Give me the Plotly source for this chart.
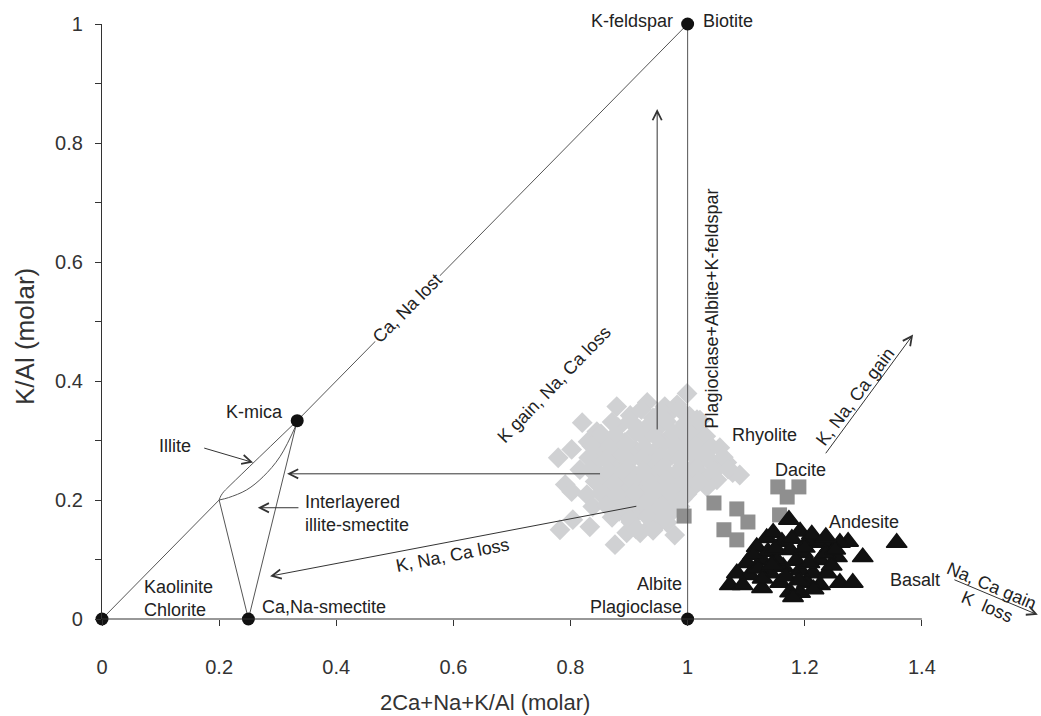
import plotly.graph_objects as go

# ---------------- data ----------------
mineral_x = [0, 0.25, 1/3, 1, 1]
mineral_y = [0, 0, 1/3, 0, 1]

rhyolite_x = [0.999, 0.931, 0.879, 0.820, 0.845, 0.830, 0.862, 0.802, 0.779, 0.816, 0.791, 0.802,
              0.828, 0.838, 0.804, 0.782, 0.833, 0.876, 0.896, 0.919, 0.936, 0.978, 0.965, 0.987,
              1.026, 1.055, 1.067, 1.077, 1.089, 1.050, 1.033, 1.016, 0.982, 0.961,
              0.902, 0.941, 0.968, 1.003,
              0.881, 0.918, 0.952, 0.986, 1.012,
              0.858, 0.893, 0.927, 0.962, 0.994, 1.021,
              0.852, 0.878, 0.912, 0.943, 0.973, 1.004, 1.028,
              0.842, 0.871, 0.899, 0.934, 0.958, 0.991, 1.018, 1.043,
              0.853, 0.884, 0.909, 0.941, 0.969, 1.002, 1.027,
              0.861, 0.893, 0.922, 0.953, 0.979, 1.012,
              0.872, 0.904, 0.931, 0.962, 0.991,
              0.883, 0.912, 0.944, 0.972,
              0.903, 0.951,
              0.921, 0.956, 0.986,
              0.871, 0.902, 0.936, 0.964, 0.996, 1.021,
              0.852, 0.876, 0.911, 0.944, 0.976, 1.006, 1.031,
              0.836, 0.866, 0.894, 0.926, 0.955, 0.984, 1.014, 1.041,
              0.831, 0.861, 0.893, 0.921, 0.954, 0.986, 1.016, 1.039, 1.061,
              0.834, 0.866, 0.896, 0.924, 0.956, 0.984, 1.013, 1.046, 1.069,
              0.842, 0.874, 0.906, 0.936, 0.964, 0.994, 1.019,
              0.851, 0.881, 0.909, 0.941, 0.971, 0.999,
              0.861, 0.894, 0.926, 0.954, 0.984,
              0.871, 0.901, 0.931, 0.959,
              0.912, 0.941]
rhyolite_y = [0.379, 0.364, 0.357, 0.330, 0.315, 0.298, 0.285, 0.285, 0.271, 0.251, 0.226, 0.214,
              0.209, 0.189, 0.167, 0.150, 0.155, 0.125, 0.145, 0.145, 0.155, 0.141, 0.162, 0.189,
              0.290, 0.288, 0.263, 0.246, 0.242, 0.234, 0.222, 0.335, 0.360, 0.357,
              0.342, 0.338, 0.345, 0.341,
              0.322, 0.318, 0.324, 0.317, 0.321,
              0.301, 0.297, 0.304, 0.299, 0.302, 0.296,
              0.281, 0.277, 0.283, 0.279, 0.276, 0.282, 0.278,
              0.262, 0.258, 0.264, 0.259, 0.261, 0.257, 0.263, 0.259,
              0.241, 0.238, 0.243, 0.239, 0.242, 0.237, 0.240,
              0.222, 0.219, 0.223, 0.218, 0.221, 0.224,
              0.201, 0.198, 0.203, 0.199, 0.202,
              0.181, 0.178, 0.183, 0.179,
              0.163, 0.161,
              0.352, 0.349, 0.353,
              0.331, 0.333, 0.328, 0.332, 0.329, 0.334,
              0.311, 0.309, 0.313, 0.308, 0.312, 0.310, 0.307,
              0.291, 0.288, 0.293, 0.289, 0.292, 0.287, 0.291, 0.289,
              0.271, 0.268, 0.272, 0.269, 0.273, 0.268, 0.271, 0.267, 0.272,
              0.251, 0.248, 0.252, 0.249, 0.253, 0.248, 0.251, 0.249, 0.252,
              0.231, 0.228, 0.232, 0.229, 0.233, 0.230, 0.231,
              0.211, 0.208, 0.212, 0.209, 0.211, 0.210,
              0.191, 0.188, 0.192, 0.189, 0.190,
              0.171, 0.168, 0.172, 0.169,
              0.151, 0.149]

dacite_x = [0.994, 1.045, 1.084, 1.103, 1.062, 1.084, 1.154, 1.190, 1.170, 1.157]
dacite_y = [0.173, 0.195, 0.185, 0.163, 0.150, 0.133, 0.222, 0.222, 0.205, 0.175]

basalt_x = [1.173, 1.192, 1.135, 1.161, 1.221, 1.243, 1.274, 1.299, 1.357, 1.118, 1.101, 1.127,
            1.175, 1.197, 1.226, 1.255, 1.084, 1.106, 1.141, 1.163, 1.192, 1.214, 1.238, 1.072,
            1.094, 1.127, 1.158, 1.175, 1.192, 1.180, 1.204, 1.226, 1.260, 1.282, 1.137, 1.152,
            1.205, 1.231, 1.260, 1.146, 1.112, 1.212, 1.185, 1.246, 1.168, 1.120, 1.215, 1.200,
            1.150, 1.235, 1.190, 1.128, 1.178, 1.252, 1.144, 1.208, 1.236]
basalt_y = [0.167, 0.147, 0.136, 0.130, 0.128, 0.121, 0.130, 0.104, 0.128, 0.121, 0.094, 0.099,
            0.116, 0.111, 0.099, 0.104, 0.077, 0.074, 0.077, 0.088, 0.082, 0.077, 0.077, 0.057,
            0.057, 0.052, 0.061, 0.045, 0.044, 0.037, 0.061, 0.057, 0.061, 0.061, 0.113, 0.099,
            0.130, 0.130, 0.128, 0.145, 0.108, 0.142, 0.098, 0.090, 0.072, 0.085, 0.050, 0.120,
            0.118, 0.110, 0.065, 0.068, 0.135, 0.117, 0.092, 0.094, 0.138]

# boundary lines of the weathering diagram
illite_upper_x = [0.2, 0.203, 0.208, 0.215, 1/3]
illite_upper_y = [0.2, 0.207, 0.214, 0.221, 1/3]
illite_lower_x = [0.2, 0.216, 0.247, 0.275, 0.304, 1/3]
illite_lower_y = [0.2, 0.204, 0.217, 0.239, 0.273, 0.330]

x_ticks = [0, 0.2, 0.4, 0.6, 0.8, 1.0, 1.2, 1.4]
x_ticktext = ["0", "0.2", "0.4", "0.6", "0.8", "1", "1.2", "1.4"]
y_ticks = [0, 0.1, 0.2, 0.3, 0.4, 0.5, 0.6, 0.7, 0.8, 0.9, 1.0]
y_ticktext = ["0", "", "0.2", "", "0.4", "", "0.6", "", "0.8", "", "1"]

X_MAX = 1.6
X_AXIS_END = 1.4

FONT = "Liberation Sans, Arial, sans-serif"
LINE = "#555555"
ARROW = "#333333"

fig = go.Figure()

fig.add_trace(go.Scatter(x=rhyolite_x, y=rhyolite_y, mode="markers",
                         marker=dict(symbol="diamond", size=16, color="#d0d1d3"),
                         showlegend=False, hoverinfo="skip"))
fig.add_trace(go.Scatter(x=dacite_x, y=dacite_y, mode="markers",
                         marker=dict(symbol="square", size=15, color="#8f8f8f"),
                         showlegend=False, hoverinfo="skip"))
fig.add_trace(go.Scatter(x=basalt_x, y=basalt_y, mode="markers",
                         marker=dict(symbol="triangle-up", size=18, color="#111111",
                                     line=dict(color="#111111", width=1.5)),
                         showlegend=False, hoverinfo="skip"))

def line(xs, ys, shape="linear"):
    fig.add_trace(go.Scatter(x=xs, y=ys, mode="lines",
                             line=dict(color=LINE, width=1, shape=shape),
                             showlegend=False, hoverinfo="skip"))

# (0,0) -> (0.2,0.2), K-mica -> (1,1)
line([mineral_x[0], 0.2], [mineral_y[0], 0.2])
line([mineral_x[2], mineral_x[4]], [mineral_y[2], mineral_y[4]])
# vertical x = 1
line([mineral_x[3], mineral_x[4]], [mineral_y[3], mineral_y[4]])
# smectite lines
line([mineral_x[2], mineral_x[1]], [mineral_y[2], mineral_y[1]])
line([0.2, mineral_x[1]], [0.2, mineral_y[1]])
# illite lens
line(illite_upper_x, illite_upper_y, "spline")
line(illite_lower_x, illite_lower_y, "spline")

fig.add_trace(go.Scatter(x=mineral_x, y=mineral_y, mode="markers",
                         marker=dict(symbol="circle", size=13, color="#111111"),
                         cliponaxis=False, showlegend=False, hoverinfo="skip"))

ann = []

def label(text, x, y, xanchor="left", yanchor="middle", angle=0, size=18, align="left",
          bg=None, yshift=0):
    d = dict(text=text, x=x, y=y, xref="x", yref="y", showarrow=False, xanchor=xanchor,
             yanchor=yanchor, textangle=angle, align=align, yshift=yshift,
             font=dict(family=FONT, size=size, color="#222222"))
    if bg:
        d["bgcolor"] = bg
    ann.append(d)

def arrow(x0, y0, x1, y1):
    ann.append(dict(text="", x=x1, y=y1, ax=x0, ay=y0, xref="x", yref="y", axref="x", ayref="y",
                    showarrow=True, arrowhead=5, arrowsize=1.8, arrowwidth=1, arrowcolor=ARROW))

label("K-feldspar", 0.978, 1.0, xanchor="right", yshift=3)
label("Biotite", 1.022, 1.0, yshift=3)
label("K-mica", 0.312, 0.348, xanchor="right")
label("Illite", 0.155, 0.290, xanchor="right")
label("Interlayered<br>illite-smectite", 0.343, 0.178)
label("Kaolinite<br>Chlorite", 0.068, 0.034)
label("Ca,Na-smectite", 0.270, 0.020)
label("Albite<br>Plagioclase", 0.994, 0.040, xanchor="right", align="right")
label("Rhyolite", 1.072, 0.310)
label("Dacite", 1.146, 0.251)
label("Andesite", 1.238, 0.163)
label("Basalt", 1.342, 0.066)
label("Plagioclase+Albite+K-feldspar", 1.042, 0.522, xanchor="center", angle=-90)
label("Ca, Na lost", 0.522, 0.522, xanchor="center", angle=-45, bg="white")
label("K gain, Na, Ca loss", 0.771, 0.394, xanchor="center", angle=-46)
label("K, Na, Ca loss", 0.599, 0.108, xanchor="center", angle=-11)
label("K, Na, Ca gain", 1.286, 0.373, xanchor="center", angle=-53)
label("Na, Ca gain", 1.519, 0.055, xanchor="center", angle=23)
label("K  loss", 1.512, 0.020, xanchor="center", angle=23)

arrow(0.172, 0.288, 0.258, 0.263)
arrow(0.338, 0.187, 0.266, 0.187)
arrow(0.853, 0.244, 0.316, 0.244)
arrow(0.915, 0.190, 0.287, 0.072)
arrow(0.948, 0.316, 0.948, 0.857)
arrow(1.234, 0.276, 1.385, 0.478)
arrow(1.453, 0.067, 1.598, 0.007)

# axis titles (placed as in the reference, which is not centred on the axes)
ann.append(dict(text="2Ca+Na+K/Al (molar)", x=0.654, y=0, xref="x", yref="paper",
                yshift=-83, xanchor="center", yanchor="middle", showarrow=False,
                font=dict(family=FONT, size=22, color="#333333")))
ann.append(dict(text="K/Al (molar)", x=0, y=0.474, xref="paper", yref="y",
                xshift=-77, xanchor="center", yanchor="middle", textangle=-90, showarrow=False,
                font=dict(family=FONT, size=26, color="#333333")))

fig.update_layout(
    width=1041, height=716,
    margin=dict(l=102, r=2, t=24, b=97),
    paper_bgcolor="white", plot_bgcolor="white",
    font=dict(family=FONT, color="#333333"),
    annotations=ann,
    shapes=[dict(type="line", xref="x domain", yref="y domain",
                 x0=0, x1=X_AXIS_END / X_MAX, y0=0, y1=0,
                 line=dict(color="#333333", width=1.2))],
    xaxis=dict(range=[0, X_MAX], tickvals=x_ticks, ticktext=x_ticktext,
               ticks="outside", ticklen=6, tickcolor="#333333", tickwidth=1,
               showline=False, showgrid=False, zeroline=False,
               ticklabelstandoff=24,
               tickfont=dict(size=20, color="#333333")),
    yaxis=dict(range=[0, 1], tickvals=y_ticks, ticktext=y_ticktext,
               ticks="outside", ticklen=6, tickcolor="#333333", tickwidth=1,
               showline=True, linecolor="#333333", linewidth=1.2,
               showgrid=False, zeroline=False, ticklabelstandoff=8,
               tickfont=dict(size=20, color="#333333")),
)

fig.write_html("out.html")
